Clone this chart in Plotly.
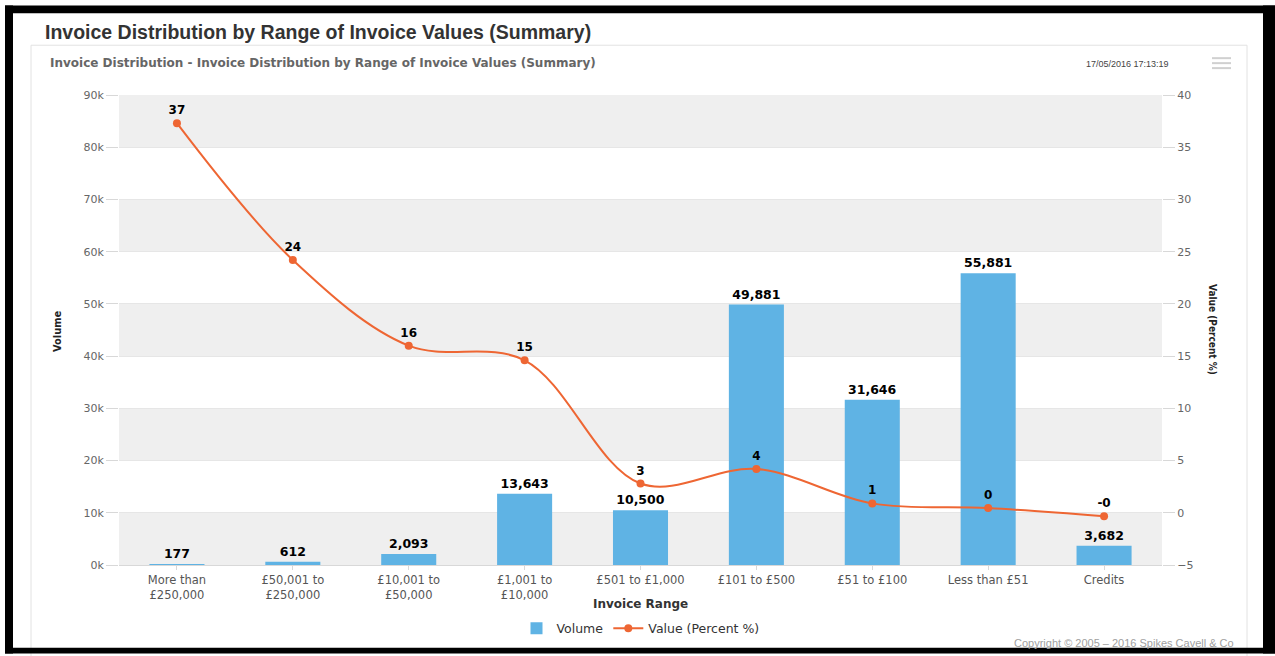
import plotly.graph_objects as go

# ---- data ----
categories = ["More than<br>£250,000", "£50,001 to<br>£250,000", "£10,001 to<br>£50,000",
              "£1,001 to<br>£10,000", "£501 to £1,000", "£101 to £500",
              "£51 to £100", "Less than £51", "Credits"]
volume = [177, 612, 2093, 13643, 10500, 49881, 31646, 55881, 3682]
value_pct = [37.3, 24.2, 16.0, 14.6, 2.8, 4.2, 0.9, 0.45, -0.33]
vol_ticks = [0, 10000, 20000, 30000, 40000, 50000, 60000, 70000, 80000, 90000]
vol_ticktext = ["0k", "10k", "20k", "30k", "40k", "50k", "60k", "70k", "80k", "90k"]
pct_ticks = [-5, 0, 5, 10, 15, 20, 25, 30, 35, 40]

W, H = 1275, 656
L, R, T, B = 119, 113, 95, 89
PW, PH = W - L - R, H - T - B

def px(x):
    return (x - L) / PW

def py(y):
    return (H - B - y) / PH

BAR = "#5fb3e4"
LINE = "#ee6633"
FONT = "DejaVu Sans"
NARROW = "Liberation Sans Narrow, DejaVu Sans Condensed, Liberation Sans, sans-serif"

fig = go.Figure()
fig.add_trace(go.Bar(
    x=categories, y=volume, name="Volume", marker_color=BAR, marker_line_width=0,
    text=[f"{v:,}" for v in volume], textposition="outside", cliponaxis=False,
    textfont=dict(family=FONT, size=12.5, color="#000000", weight="bold"),
    yaxis="y",
))
fig.add_trace(go.Scatter(
    x=categories, y=value_pct, name="Value (Percent %)", mode="lines+markers+text",
    line=dict(color=LINE, width=2, shape="spline", smoothing=1.0),
    marker=dict(color=LINE, size=8),
    text=[f"{v:.0f}" for v in value_pct], textposition="top center",
    textfont=dict(family=FONT, size=12, color="#000000", weight="bold"),
    cliponaxis=False, yaxis="y2",
))

shapes = []
# alternating plot bands, from the tick list
for i in range(len(vol_ticks) - 1, 0, -2):
    shapes.append(dict(type="rect", xref="paper", yref="y", x0=0, x1=1,
                       y0=vol_ticks[i - 1], y1=vol_ticks[i], fillcolor="#efefef",
                       line=dict(width=0), layer="below"))
# panel border
shapes.append(dict(type="rect", xref="paper", yref="paper", x0=px(31), x1=px(1247),
                   y0=py(662), y1=py(45), line=dict(color="#e2e2e2", width=1),
                   fillcolor="rgba(0,0,0,0)", layer="below"))
# hamburger icon
for yy in (58, 63, 68):
    shapes.append(dict(type="line", xref="paper", yref="paper", x0=px(1212), x1=px(1231),
                       y0=py(yy), y1=py(yy), line=dict(color="#d0d0d0", width=2)))
# black frame
for (x0, y0, x1, y1) in [(5, 5, 1275, 13), (5, 5, 13, 656), (1263, 5, 1275, 656), (5, 650, 1275, 656)]:
    shapes.append(dict(type="rect", xref="paper", yref="paper", x0=px(x0), x1=px(x1),
                       y0=py(y1), y1=py(y0), fillcolor="#000000", line=dict(width=0)))

annotations = [
    dict(text="<b>Invoice Distribution by Range of Invoice Values (Summary)</b>",
         x=px(43), y=py(32), xref="paper", yref="paper", xanchor="left", yanchor="middle",
         showarrow=False, font=dict(family="Liberation Sans", size=19.5, color="#333333")),
    dict(text="<b>Invoice Distribution - Invoice Distribution by Range of Invoice Values (Summary)</b>",
         x=px(48), y=py(63), xref="paper", yref="paper", xanchor="left", yanchor="middle",
         showarrow=False, font=dict(family=FONT, size=12, color="#666666")),
    dict(text="17/05/2016 17:13:19",
         x=px(1171), y=py(64), xref="paper", yref="paper", xanchor="right", yanchor="middle",
         showarrow=False, font=dict(family="Liberation Sans", size=9, color="#444444")),
    dict(text="<b>Invoice Range</b>",
         x=0.5, y=py(606), xref="paper", yref="paper", xanchor="center", yanchor="middle",
         showarrow=False, font=dict(family=FONT, size=12, color="#333333")),
    dict(text="<b>Volume</b>", textangle=-90,
         x=px(58), y=py(332), xref="paper", yref="paper", xanchor="center", yanchor="middle",
         showarrow=False, font=dict(family=NARROW, size=11, color="#222222")),
    dict(text="<b>Value (Percent %)</b>", textangle=90,
         x=px(1213), y=py(330), xref="paper", yref="paper", xanchor="center", yanchor="middle",
         showarrow=False, font=dict(family=NARROW, size=10, color="#222222")),
    dict(text="Copyright © 2005 – 2016 Spikes Cavell &amp; Co",
         x=px(1236), y=py(645), xref="paper", yref="paper", xanchor="right", yanchor="middle",
         showarrow=False, font=dict(family="Liberation Sans", size=11, color="#a0a0a0")),
]

fig.update_layout(
    width=W, height=H,
    margin=dict(l=L, r=R, t=T, b=B),
    paper_bgcolor="#ffffff", plot_bgcolor="#ffffff",
    bargap=0.525,
    showlegend=True,
    legend=dict(orientation="h", x=0.5, xanchor="center", y=py(631), yanchor="middle",
                font=dict(family=FONT, size=12.5, color="#333333"), itemwidth=30,
                traceorder="normal"),
    xaxis=dict(type="category", showgrid=False, showline=True, linecolor="#d8d8d8",
               ticks="outside", ticklen=4, tickcolor="#d8d8d8",
               tickfont=dict(family=FONT, size=11.5, color="#555555")),
    yaxis=dict(range=[0, 90000], tickvals=vol_ticks, ticktext=vol_ticktext,
               showgrid=True, gridcolor="#e6e6e6", zeroline=False,
               ticks="outside", ticklen=12, tickcolor="#d8d8d8",
               tickfont=dict(family=FONT, size=11, color="#666666")),
    yaxis2=dict(range=[-5, 40], tickvals=pct_ticks, overlaying="y", side="right",
                showgrid=False, zeroline=False,
                ticks="outside", ticklen=12, tickcolor="#d8d8d8",
                tickfont=dict(family=FONT, size=11, color="#666666")),
    shapes=shapes,
    annotations=annotations,
)

fig.write_html("out.html", config={"displayModeBar": False},
               post_script="document.body.style.margin='0';document.body.style.overflow='hidden';")
